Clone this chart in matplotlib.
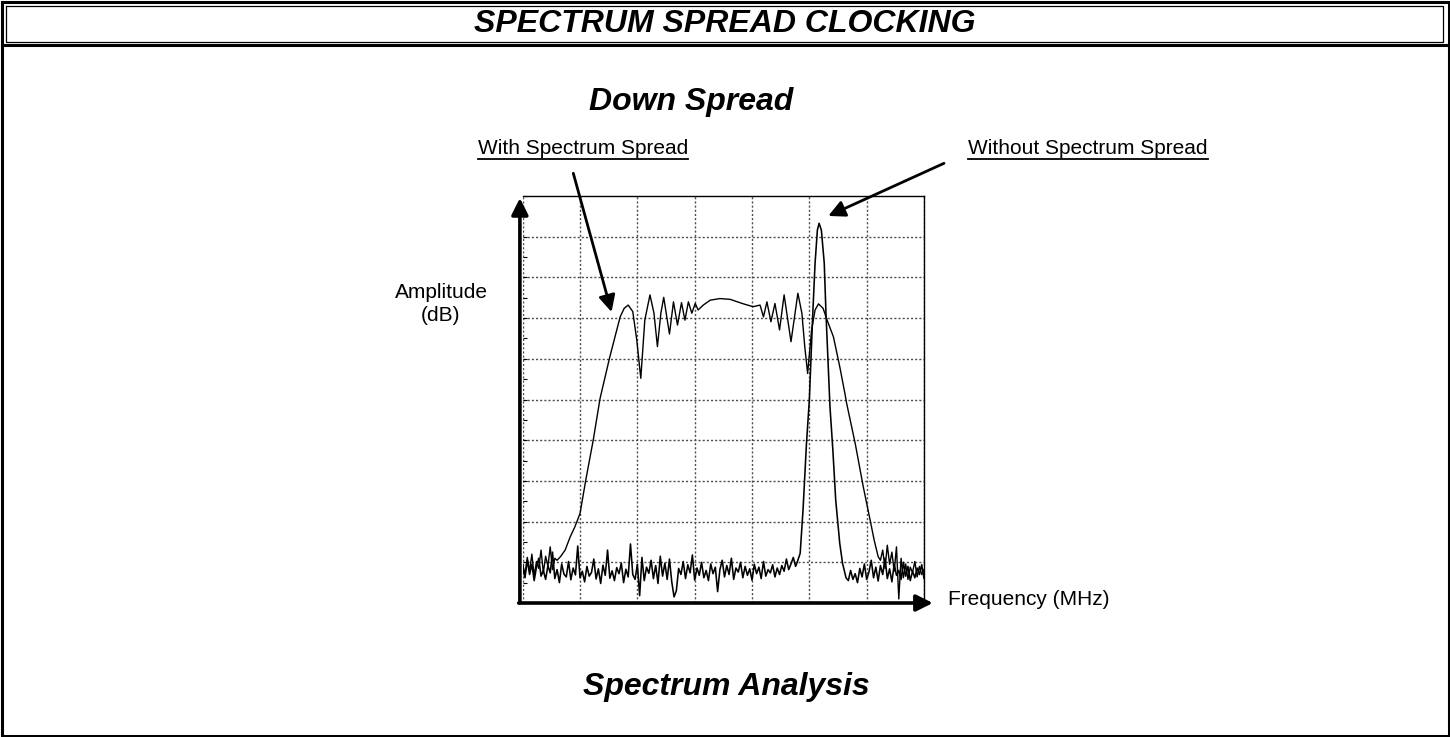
import numpy as np
import matplotlib
matplotlib.use("Agg")
import matplotlib.pyplot as plt
from matplotlib.lines import Line2D
from matplotlib.ticker import MultipleLocator

plt.rcParams['font.family'] = ['Liberation Sans', 'DejaVu Sans']

####################
# TRACE DATA       #
####################
# x in horizontal grid divisions (0..7), y in vertical divisions (0..10)

# With spectrum spread: main body of the trace
spread_x = [0.66, 0.74, 0.83, 0.91, 1.00, 1.10, 1.23, 1.35, 1.52, 1.70,
            1.77, 1.84, 1.92, 1.99, 2.06, 2.13, 2.22, 2.29, 2.35, 2.41,
            2.46, 2.56, 2.63, 2.70, 2.77, 2.83, 2.89, 2.95, 3.01, 3.06,
            3.15, 3.27, 3.44, 3.62, 3.85, 4.02, 4.14, 4.20, 4.26, 4.33,
            4.40, 4.48, 4.56, 4.68, 4.80, 4.87, 4.92, 4.97, 5.04, 5.10,
            5.16, 5.24, 5.31, 5.42, 5.53, 5.62, 5.65, 5.80, 5.94, 6.06,
            6.13, 6.20]
spread_y = [1.14, 1.30, 1.63, 1.87, 2.20, 3.02, 4.00, 5.03, 6.05, 7.03,
            7.24, 7.32, 7.16, 6.46, 5.52, 6.95, 7.57, 7.12, 6.30, 7.12,
            7.51, 6.61, 7.40, 6.83, 7.38, 6.95, 7.40, 7.12, 7.36, 7.20,
            7.32, 7.44, 7.48, 7.46, 7.35, 7.28, 7.32, 7.03, 7.40, 6.91,
            7.36, 6.71, 7.57, 6.42, 7.61, 7.12, 6.30, 5.64, 6.71, 7.20,
            7.35, 7.24, 6.95, 6.54, 5.81, 5.15, 4.91, 3.92, 2.86, 2.04,
            1.55, 1.14]

# Noise floor of the spread trace (left and right of the band)
spread_floor_left = [0.95, 0.70, 1.12, 0.78, 1.20, 0.66, 1.02, 0.85, 1.30, 0.74,
                     1.15, 0.90, 1.38, 0.82, 1.10, 1.05]
spread_floor_right = [1.05, 1.30, 0.85, 1.42, 0.95, 1.25, 0.78, 1.38, 0.10, 1.10,
                      0.62, 0.96, 0.58, 0.88, 0.75, 1.02, 0.64, 0.90, 0.70, 0.82]

# Without spectrum spread: single carrier peak
carrier_x = [4.78, 4.84, 4.89, 4.95, 5.00, 5.06, 5.10, 5.14, 5.17, 5.21,
             5.26, 5.29, 5.33, 5.36, 5.41, 5.46, 5.53, 5.58, 5.62]
carrier_y = [0.97, 1.22, 2.29, 3.92, 4.99, 7.12, 8.35, 9.16, 9.33, 9.16,
             8.35, 7.12, 5.81, 4.82, 3.76, 2.53, 1.47, 0.97, 0.73]

# Noise floor of the carrier trace
carrier_floor_left = [
    0.85, 0.62, 1.05, 0.70, 0.95, 0.55, 0.88, 1.10, 0.66, 0.80,
    0.58, 0.92, 0.74, 1.25, 0.60, 0.82, 0.50, 0.96, 0.71, 0.64,
    1.02, 0.57, 0.86, 0.69, 1.40, 0.62, 0.78, 0.52, 0.90, 0.66,
    0.75, 1.08, 0.59, 0.84, 0.48, 0.93, 0.68, 1.30, 0.61, 0.79,
    0.55, 0.87, 0.72, 0.98, 0.50, 0.83, 0.64, 1.45, 0.70, 0.58,
    0.95, 0.18, 1.12, 0.55, 0.88, 0.73, 1.05, 0.60, 0.92, 0.48,
    1.15, 0.66, 0.98, 0.58, 1.08, 0.52, 0.15, 0.30, 0.85, 0.70,
    1.02, 0.60, 0.94, 0.74, 1.18, 0.56, 0.86, 0.68, 1.00, 0.62,
    0.80, 0.55, 0.96, 0.72, 0.88, 0.28, 0.82, 1.05, 0.64, 0.92,
    0.70, 1.10, 0.58, 0.86, 0.76, 1.00, 0.62, 0.90, 0.68, 0.84,
    0.56, 0.95, 0.72, 0.88, 0.60, 1.02, 0.66, 0.82, 0.74, 0.94,
    0.64, 0.86, 0.70, 0.92, 0.78, 1.08, 0.82, 0.96, 1.12, 0.90]
carrier_floor_right = [
    0.62, 0.55, 0.80, 0.58, 0.72, 0.50, 0.85, 0.64, 0.96, 0.58,
    0.76, 1.05, 0.62, 0.88, 0.54, 0.92, 0.70, 1.10, 0.60, 0.84,
    0.52, 0.95, 0.68, 0.80, 0.58, 1.00, 0.66, 0.90, 0.55, 0.78,
    0.62, 0.86, 0.70, 0.94, 0.60]

# analyser sample positions for the floor segments
spread_floor_left_x = np.linspace(0.0, 0.60, len(spread_floor_left))
spread_floor_right_x = np.linspace(6.24, 7.0, len(spread_floor_right))
carrier_floor_left_x = np.linspace(0.0, 4.76, len(carrier_floor_left))
carrier_floor_right_x = np.linspace(5.64, 7.0, len(carrier_floor_right))

W, H = 1450, 737
fig = plt.figure(figsize=(W / 100, H / 100), dpi=100)


def fx(px):
    return px / W


def fy(py):
    return 1 - py / H


# Plot area
ax = fig.add_axes([fx(522.7), fy(603), fx(924) - fx(522.7), fy(196) - fy(603)])
ax.set_xlim(0, 7)
ax.set_ylim(0, 407 / 40.7)

ax.plot(np.concatenate([carrier_floor_left_x, carrier_x, carrier_floor_right_x]),
        np.concatenate([carrier_floor_left, carrier_y, carrier_floor_right]),
        color='black', lw=1.15, zorder=3)
ax.plot(np.concatenate([spread_floor_left_x, spread_x, spread_floor_right_x]),
        np.concatenate([spread_floor_left, spread_y, spread_floor_right]),
        color='black', lw=1.0, zorder=3)

# Grid
ax.set_xticks(range(8))
ax.set_yticks(range(10))
ax.yaxis.set_minor_locator(MultipleLocator(0.5))
ax.set_axisbelow(True)
ax.grid(True, which='major', color='0.3', lw=1.0, linestyle=(0, (1.5, 1.5)))
ax.tick_params(axis='x', length=0, labelbottom=False)
ax.tick_params(axis='y', which='both', direction='in', length=3, width=0.8,
               labelleft=False)
for side in ['left', 'bottom']:
    ax.spines[side].set_visible(False)
for side in ['top', 'right']:
    ax.spines[side].set_linewidth(1.0)

# Axis arrows
ax.annotate('', xy=(-0.007, 0.995), xytext=(-0.007, 0.0),
            xycoords='axes fraction', textcoords='axes fraction',
            arrowprops=dict(arrowstyle='-|>', lw=2.6, color='black',
                            mutation_scale=25, shrinkA=0, shrinkB=0),
            annotation_clip=False)
ax.annotate('', xy=(1.022, 0.0), xytext=(-0.01, 0.0),
            xycoords='axes fraction', textcoords='axes fraction',
            arrowprops=dict(arrowstyle='-|>', lw=2.6, color='black',
                            mutation_scale=25, shrinkA=0, shrinkB=0),
            annotation_clip=False)

# Pointer arrows
ax.annotate('', xy=(1.55, 7.15), xytext=(573.3, H - 173.3),
            textcoords='figure pixels',
            arrowprops=dict(arrowstyle='-|>', lw=2.0, color='black',
                            mutation_scale=25, shrinkA=0, shrinkB=0),
            annotation_clip=False)
ax.annotate('', xy=(5.33, 9.51), xytext=(944, H - 163.3),
            textcoords='figure pixels',
            arrowprops=dict(arrowstyle='-|>', lw=2.0, color='black',
                            mutation_scale=25, shrinkA=0, shrinkB=0),
            annotation_clip=False)

# Texts
bold_it = dict(fontweight='bold', fontstyle='italic', fontsize=23)
fig.text(fx(725), fy(24), 'SPECTRUM SPREAD CLOCKING', ha='center', va='center', **bold_it)
fig.text(fx(691), fy(110), 'Down Spread', ha='center', va='baseline', **bold_it)
fig.text(fx(583), fy(695), 'Spectrum Analysis', ha='left', va='baseline', **bold_it)

t_with = fig.text(fx(478), fy(154), 'With Spectrum Spread', ha='left', va='baseline', fontsize=15)
t_without = fig.text(fx(968), fy(154), 'Without Spectrum Spread', ha='left', va='baseline', fontsize=15)
fig.text(fx(441), fy(298), 'Amplitude', ha='center', va='baseline', fontsize=15)
fig.text(fx(441), fy(321), '(dB)', ha='center', va='baseline', fontsize=15)
fig.text(fx(948), fy(605), 'Frequency (MHz)', ha='left', va='baseline', fontsize=15)

# Underlines
fig.canvas.draw()
renderer = fig.canvas.get_renderer()
for t in [t_with, t_without]:
    bb = t.get_window_extent(renderer)
    fig.add_artist(Line2D([bb.x0 / W, bb.x1 / W], [fy(158.5), fy(158.5)],
                          transform=fig.transFigure, color='black', lw=1.3))

# Page frame
frame = dict(transform=fig.transFigure, color='black')
fig.add_artist(Line2D([fx(1.5), fx(1448.5), fx(1448.5), fx(1.5), fx(1.5)],
                      [fy(1.5), fy(1.5), fy(735.5), fy(735.5), fy(1.5)], lw=2.2, **frame))
fig.add_artist(Line2D([fx(6), fx(1443), fx(1443), fx(6), fx(6)],
                      [fy(5.5), fy(5.5), fy(42), fy(42), fy(5.5)], lw=0.9, **frame))
fig.add_artist(Line2D([fx(1.5), fx(1448.5)], [fy(44.5), fy(44.5)], lw=2.2, **frame))

fig.savefig('out.png', dpi=100)
